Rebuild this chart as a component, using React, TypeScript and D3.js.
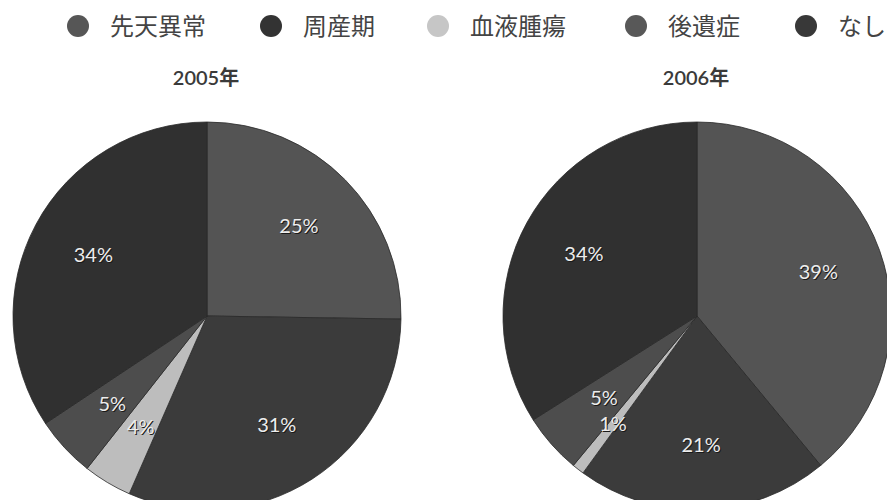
import React from "react";
import * as d3 from "d3";

const categories = ["先天異常", "周産期", "血液腫瘍", "後遺症", "なし"];
const values2005 = [25, 31, 4, 5, 34];
const values2006 = [39, 21, 1, 5, 34];
const years = ["2005年", "2006年"];
const colors = ["#545454", "#3b3b3b", "#bdbdbd", "#4d4d4d", "#303030"];
const legendColors = ["#565656", "#333333", "#c6c6c6", "#585858", "#383838"];

const W = 887;
const H = 500;
const R = 194;
const LABEL_R = 129;

function Pie({ values, cx, cy, title }: { values: number[]; cx: number; cy: number; title: string }) {
  const pie = d3.pie<number>().sort(null).value((d) => d);
  const arcs = pie(values);
  const arc = d3.arc<d3.PieArcDatum<number>>().innerRadius(0).outerRadius(R);
  const labelR = (i: number, v: number) => (v <= 1 ? 137 : v <= 5 && values[i + 1] !== undefined && values[i - 1] <= 1 ? 124 : LABEL_R);
  return (
    <g>
      <text
        x={cx - 1}
        y={85}
        textAnchor="middle"
        fontFamily="Lato, 'Noto Sans CJK JP', sans-serif"
        fontSize={20}
        fontWeight={600}
        fill="#3a3a3a"
      >
        {title}
      </text>
      <g transform={`translate(${cx},${cy})`}>
        {arcs.map((a, i) => (
          <path key={i} d={arc(a) || ""} fill={colors[i]} stroke="#2a2a2a" strokeWidth={0.8} />
        ))}
        {arcs.map((a, i) => {
          const r = labelR(i, values[i]);
          const [x, y] = d3.arc<d3.PieArcDatum<number>>().innerRadius(r).outerRadius(r).centroid(a);
          return (
            <g key={"l" + i}>
              <text
                x={x + 1}
                y={y + 1}
                dy="0.35em"
                textAnchor="middle"
                fontFamily="Lato, sans-serif"
                fontSize={20}
                fill="#1a1a1a"
              >
                {values[i]}%
              </text>
              <text
                x={x}
                y={y}
                dy="0.35em"
                textAnchor="middle"
                fontFamily="Lato, sans-serif"
                fontSize={20}
                fill="#ededed"
              >
                {values[i]}%
              </text>
            </g>
          );
        })}
      </g>
    </g>
  );
}

export default function App() {
  const legendX = [78, 271, 438, 636, 806];
  return (
    <svg width={W} height={H} style={{ position: "absolute", left: 0, top: 0, background: "#ffffff" }}>
      <rect x={0} y={0} width={W} height={H} fill="#ffffff" />
      {categories.map((c, i) => (
        <g key={c}>
          <circle cx={legendX[i]} cy={26} r={11} fill={legendColors[i]} />
          <text
            x={legendX[i] + 32}
            y={26}
            dy="0.36em"
            fontFamily="'Noto Sans CJK JP', sans-serif"
            fontSize={24}
            fill="#444444"
          >
            {c}
          </text>
        </g>
      ))}
      <Pie values={values2005} cx={207} cy={316} title={years[0]} />
      <Pie values={values2006} cx={697} cy={316} title={years[1]} />
    </svg>
  );
}
